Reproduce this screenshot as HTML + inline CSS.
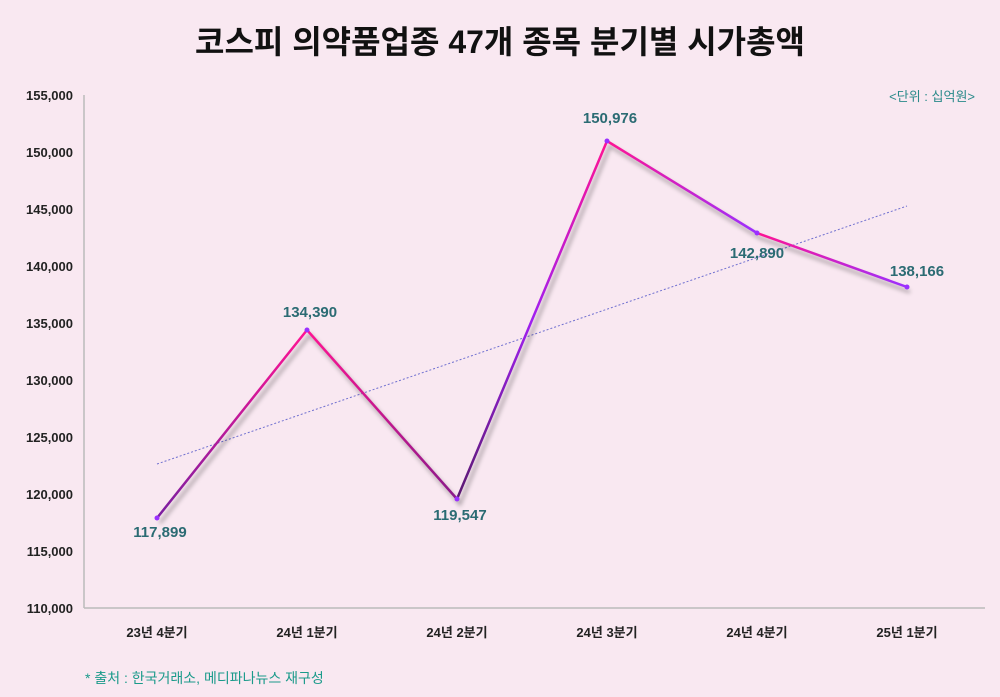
<!DOCTYPE html>
<html><head><meta charset="utf-8"><style>
body{margin:0;background:#f9e8f1;}
svg{display:block;font-family:"Liberation Sans","Noto Sans CJK KR",sans-serif;}
</style></head><body>
<svg width="1000" height="697" viewBox="0 0 1000 697">
<defs>
<linearGradient id="g1" gradientUnits="userSpaceOnUse" x1="157" y1="518" x2="307" y2="330"><stop offset="0" stop-color="#7a1fa0"/><stop offset="1" stop-color="#ff1493"/></linearGradient>
<linearGradient id="g2" gradientUnits="userSpaceOnUse" x1="307" y1="330" x2="457" y2="499"><stop offset="0" stop-color="#ff1493"/><stop offset="1" stop-color="#8a1a8a"/></linearGradient>
<linearGradient id="g3" gradientUnits="userSpaceOnUse" x1="457" y1="499" x2="607" y2="141"><stop offset="0" stop-color="#5a1a70"/><stop offset="0.5" stop-color="#a020f0"/><stop offset="1" stop-color="#ff1493"/></linearGradient>
<linearGradient id="g4" gradientUnits="userSpaceOnUse" x1="607" y1="141" x2="757" y2="233"><stop offset="0" stop-color="#ff1493"/><stop offset="1" stop-color="#9b30ff"/></linearGradient>
<linearGradient id="g5" gradientUnits="userSpaceOnUse" x1="757" y1="233" x2="907" y2="287"><stop offset="0" stop-color="#ff1493"/><stop offset="1" stop-color="#9b30ff"/></linearGradient>
<filter id="sh" x="-10%" y="-10%" width="120%" height="120%"><feGaussianBlur stdDeviation="2"/></filter>
</defs>
<text x="500" y="53" text-anchor="middle" font-size="32" font-weight="bold" fill="#111">코스피 의약품업종 47개 종목 분기별 시가총액</text>
<text x="975" y="101" text-anchor="end" font-size="13" fill="#2a8a8a">&lt;단위 : 십억원&gt;</text>
<g font-size="13" font-weight="bold" fill="#222" text-anchor="end">
<text x="73" y="100">155,000</text><text x="73" y="157">150,000</text><text x="73" y="214">145,000</text><text x="73" y="271">140,000</text><text x="73" y="328">135,000</text><text x="73" y="385">130,000</text><text x="73" y="442">125,000</text><text x="73" y="499">120,000</text><text x="73" y="556">115,000</text><text x="73" y="613">110,000</text>
</g>
<line x1="84" y1="95" x2="84" y2="608" stroke="#bbb" stroke-width="1.5"/>
<line x1="84" y1="608" x2="985" y2="608" stroke="#bbb" stroke-width="1.5"/>
<g font-size="13" font-weight="bold" fill="#222" text-anchor="middle">
<text x="157" y="637">23년 4분기</text><text x="307" y="637">24년 1분기</text><text x="457" y="637">24년 2분기</text><text x="607" y="637">24년 3분기</text><text x="757" y="637">24년 4분기</text><text x="907" y="637">25년 1분기</text>
</g>
<line x1="157" y1="464" x2="907" y2="206" stroke="#7070d0" stroke-width="1" stroke-dasharray="2,2"/>
<polyline points="160,523 310,335 460,504 610,146 760,238 910,292" fill="none" stroke="#000" stroke-opacity="0.3" stroke-width="3" filter="url(#sh)"/>
<g fill="none" stroke-width="2.5" stroke-linecap="round">
<line x1="157" y1="518" x2="307" y2="330" stroke="url(#g1)"/>
<line x1="307" y1="330" x2="457" y2="499" stroke="url(#g2)"/>
<line x1="457" y1="499" x2="607" y2="141" stroke="url(#g3)"/>
<line x1="607" y1="141" x2="757" y2="233" stroke="url(#g4)"/>
<line x1="757" y1="233" x2="907" y2="287" stroke="url(#g5)"/>
</g>
<g fill="#9b30ff"><circle cx="157" cy="518" r="2.5"/><circle cx="307" cy="330" r="2.5"/><circle cx="457" cy="499" r="2.5"/><circle cx="607" cy="141" r="2.5"/><circle cx="757" cy="233" r="2.5"/><circle cx="907" cy="287" r="2.5"/></g>
<g font-size="15" font-weight="bold" fill="#2b6b73" text-anchor="middle">
<text x="160" y="537">117,899</text><text x="310" y="317">134,390</text><text x="460" y="520">119,547</text><text x="610" y="123">150,976</text><text x="757" y="258">142,890</text><text x="917" y="276">138,166</text>
</g>
<text x="85" y="683" font-size="14" fill="#1a9a8a">* 출처 : 한국거래소, 메디파나뉴스 재구성</text>
</svg>
</body></html>
